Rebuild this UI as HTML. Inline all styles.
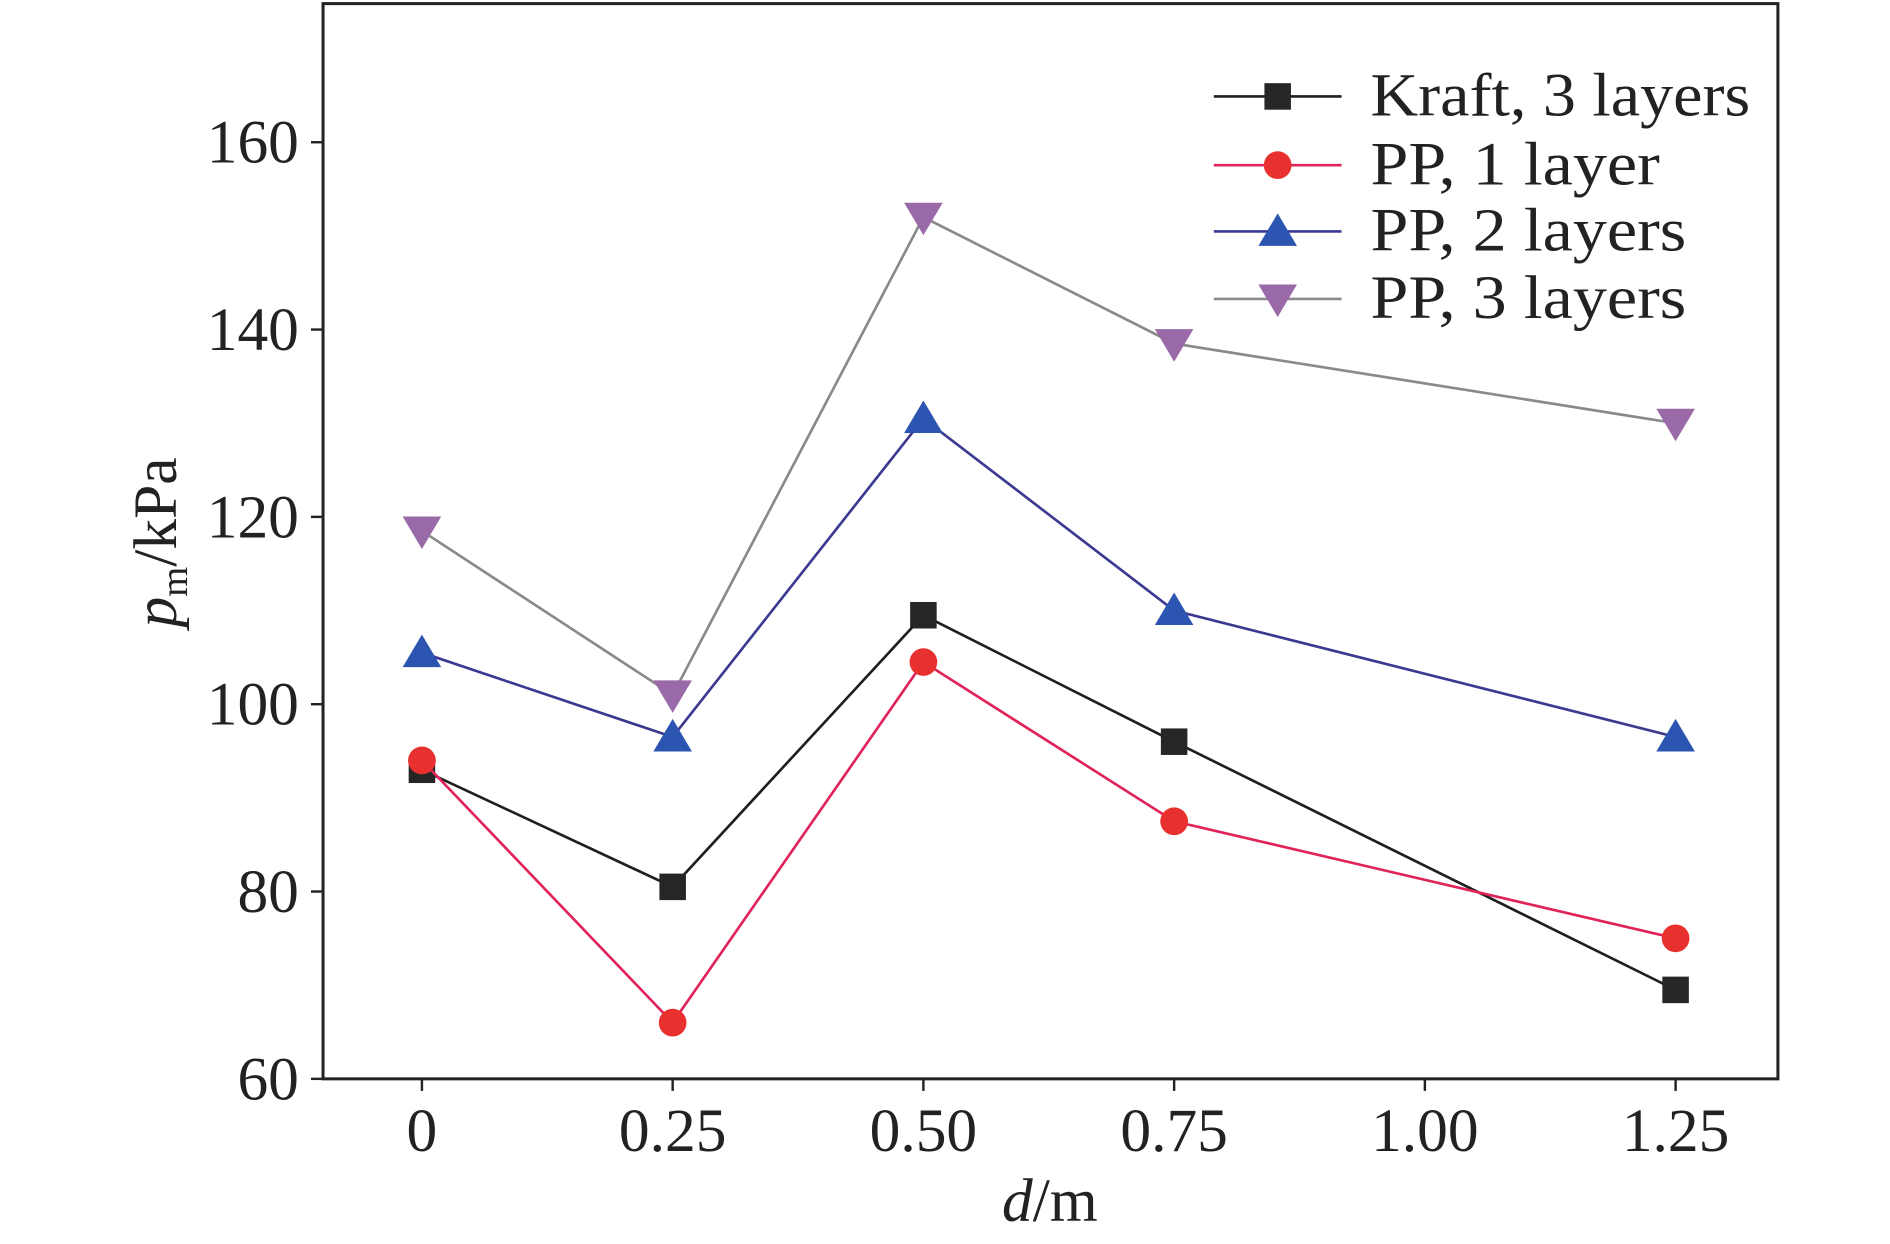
<!DOCTYPE html>
<html><head><meta charset="utf-8"><style>
html,body{margin:0;padding:0;background:#fff;}
svg{display:block;}
text{font-family:"Liberation Serif",serif;fill:#222;}
</style></head><body>
<svg id="chart" width="1890" height="1244" viewBox="0 0 1568 1032" preserveAspectRatio="none" xmlns="http://www.w3.org/2000/svg">
<rect x="0" y="0" width="1568" height="1032" fill="#fff"/>
<g id="plot"></g>
</svg>
<script>
const xValues = [0, 0.25, 0.5, 0.75, 1.25];
const kraft3 = [93, 80.5, 109.5, 96, 69.5];
const pp1 = [94, 66, 104.5, 87.5, 75];
const pp2 = [105.5, 96.5, 130.5, 110, 96.5];
const pp3 = [118.5, 101, 152, 138.5, 130];
const xTicks = [0, 0.25, 0.5, 0.75, 1.0, 1.25];
const xTickLabels = ["0", "0.25", "0.50", "0.75", "1.00", "1.25"];
const yTicks = [60, 80, 100, 120, 140, 160];
const seriesNames = ["Kraft, 3 layers", "PP, 1 layer", "PP, 2 layers", "PP, 3 layers"];

const L=268,R=1475,T=3,B=895;
const xMin=-0.0986,xMax=1.352,yMin=60,yMax=174.8;
function sx(v){return L+(v-xMin)/(xMax-xMin)*(R-L);}
function sy(v){return B-(v-yMin)/(yMax-yMin)*(B-T);}
const NS="http://www.w3.org/2000/svg";
const g=document.getElementById('plot');
function mk(tag,attrs,parent){const e=document.createElementNS(NS,tag);for(const k in attrs)e.setAttribute(k,attrs[k]);(parent||g).appendChild(e);return e;}

let fr=mk('rect',{x:L,y:T,width:R-L,height:B-T,fill:'none',stroke:'#222','stroke-width':2.5});



xTicks.forEach((v,i)=>{
  let t=mk('line',{x1:sx(v),x2:sx(v),y1:B,y2:B+10,stroke:'#222','stroke-width':2});
  
  
  let lb=mk('text',{x:sx(v),y:B+60,'text-anchor':'middle','font-size':51});
  lb.textContent=xTickLabels[i];
  
  
});
yTicks.forEach(v=>{
  let t=mk('line',{x1:L-10,x2:L,y1:sy(v),y2:sy(v),stroke:'#222','stroke-width':2});
  
  
  let lb=mk('text',{x:L-20,y:sy(v)+17,'text-anchor':'end','font-size':51});
  lb.textContent=String(v);
  
  
});

let xt=mk('text',{x:871,y:1013,'text-anchor':'middle','font-size':51});
xt.innerHTML='<tspan font-style="italic">d</tspan>/m';


let yt=mk('text',{transform:'translate(146,450) rotate(-90)','text-anchor':'middle','font-size':51});
yt.innerHTML='<tspan font-style="italic">p</tspan><tspan font-size="32" dy="9">m</tspan><tspan dy="-9">/kPa</tspan>';



const styles=[
  {line:'#1f1f1f',fill:'#262626',m:'square'},
  {line:'#e0245a',fill:'#e8302e',m:'circle'},
  {line:'#3c3a90',fill:'#2b55b0',m:'tri'},
  {line:'#8a8a8a',fill:'#9a6aa8',m:'tridown'}
];
function marker(type,x,y,fill,parent){
  let e;
  if(type==='square') e=mk('rect',{x:x-11,y:y-11,width:22,height:22,fill:fill},parent);
  else if(type==='circle') e=mk('circle',{cx:x,cy:y,r:11.5,fill:fill},parent);
  else if(type==='tri') e=mk('polygon',{points:`${x},${y-15} ${x-16},${y+12} ${x+16},${y+12}`,fill:fill},parent);
  else e=mk('polygon',{points:`${x},${y+15} ${x-16},${y-12} ${x+16},${y-12}`,fill:fill},parent);
  return e;
}
const allSeries=[kraft3,pp1,pp2,pp3];
const keys=['kraft-3-layers','pp-1-layer','pp-2-layers','pp-3-layers'];
allSeries.forEach((s,i)=>{
  const st=styles[i];
  const grp=mk('g',{});
  
  
  const pts=s.map((v,j)=>sx(xValues[j])+','+sy(v)).join(' ');
  const pl=mk('polyline',{points:pts,fill:'none',stroke:st.line,'stroke-width':2.2},grp);
  
  
  s.forEach((v,j)=>{
    const m=marker(st.m,sx(xValues[j]),sy(v),st.fill,grp);
    
    
  });
});

const legY=[80,137,192,248];
const legW=[315,240,262,262];
seriesNames.forEach((n,i)=>{
  const st=styles[i];
  const lg=mk('g',{});
  
  
  mk('line',{x1:1007,x2:1113,y1:legY[i],y2:legY[i],stroke:st.line,'stroke-width':2.2},lg);
  marker(st.m,1060,legY[i],st.fill,lg);
  const t=mk('text',{x:1137,y:legY[i]+16,'font-size':51,textLength:legW[i],lengthAdjust:'spacingAndGlyphs'},lg);
  t.textContent=n;
});
</script>
</body></html>
